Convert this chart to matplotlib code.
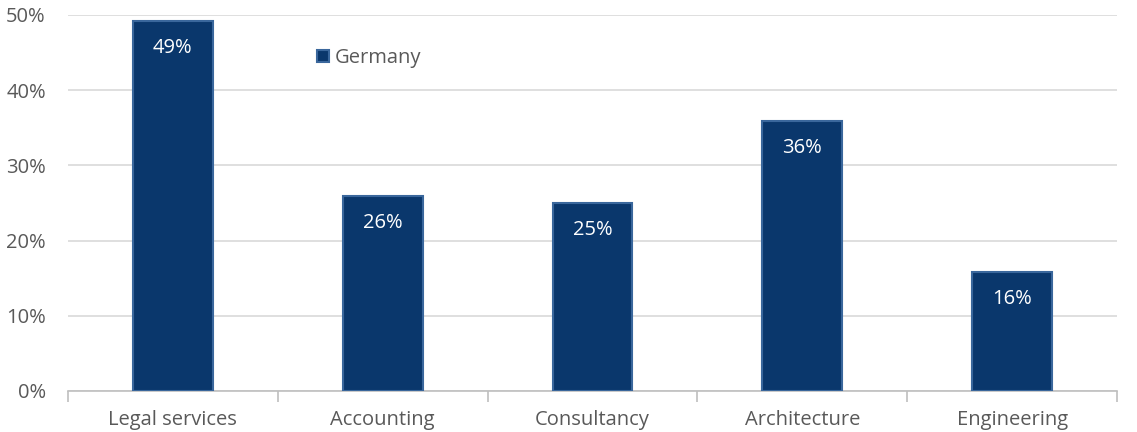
import numpy as np
import matplotlib.pyplot as plt
from matplotlib.ticker import FuncFormatter, FixedLocator

plt.rcParams["font.family"] = ["Open Sans", "DejaVu Sans"]

categories = ["Legal services", "Accounting", "Consultancy", "Architecture", "Engineering"]
values = [49.2, 25.9, 25.0, 35.9, 15.8]
labels = ["49%", "26%", "25%", "36%", "16%"]
series_name = "Germany"

fig = plt.figure(figsize=(11.37, 4.32), dpi=100)
ax = fig.add_axes([68 / 1137, 1 - 391 / 432, (1117 - 68) / 1137, 376 / 432])

x = np.arange(len(categories))
ax.bar(x, values, width=0.38, color="#0a376c", edgecolor="#3a679c",
       linewidth=1.5, label=series_name, zorder=3)

for xi, v, lab in zip(x, values, labels):
    ax.text(xi, v - 3.6, lab, ha="center", va="center", color="white",
            fontsize=14.5, zorder=5)

ax.set_xlim(-0.5, len(categories) - 0.5)
ax.set_ylim(0, 50)
ax.yaxis.set_major_locator(FixedLocator([0, 10, 20, 30, 40, 50]))
ax.yaxis.set_major_formatter(FuncFormatter(lambda v, p: f"{v:.0f}%"))
ax.grid(axis="y", color="#d9d9d9", linewidth=1.2, zorder=0)

ax.set_xticks(x)
ax.set_xticklabels(categories)
ax.set_xticks(np.arange(len(categories) + 1) - 0.5, minor=True)
ax.tick_params(axis="x", which="major", length=0, pad=14, labelsize=14.5, labelcolor="#595959")
ax.tick_params(axis="x", which="minor", length=8, color="#bfbfbf", width=1.2)
ax.tick_params(axis="y", length=0, pad=16, labelsize=14.5, labelcolor="#595959")

for s in ["top", "right", "left"]:
    ax.spines[s].set_visible(False)
ax.spines["bottom"].set_color("#bfbfbf")
ax.spines["bottom"].set_linewidth(1.2)

leg = ax.legend(loc="upper left", bbox_to_anchor=(0.22, 0.96), frameon=False,
                fontsize=14.5, handlelength=0.6, handleheight=0.6, handletextpad=0.3,
                labelcolor="#595959")

fig.savefig("out.png", dpi=100)
